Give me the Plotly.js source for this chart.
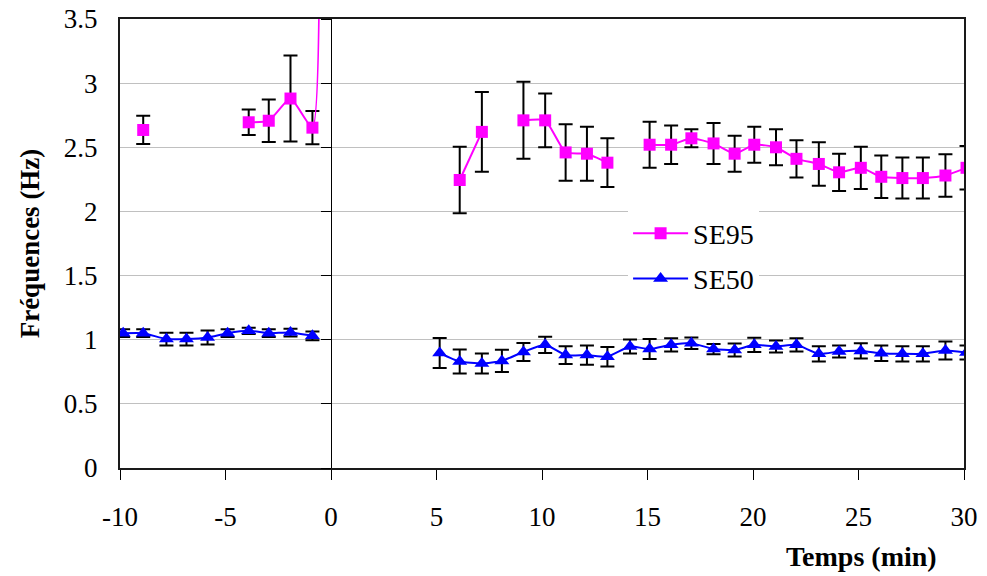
<!DOCTYPE html>
<html>
<head>
<meta charset="utf-8">
<script src="https://cdn.plot.ly/plotly-3.0.1.min.js"></script>
<style>html,body{margin:0;padding:0;background:#fff;}#chart{width:987px;height:576px;}</style>
</head>
<body>
<div id="chart"></div>
<script>
// Time (min)
var temps = [-9.85, -8.9, -7.8, -6.85, -5.85, -4.9, -3.9, -2.95, -1.92, -0.88, -0.6,
             5.15, 6.1, 7.15, 8.1, 9.12, 10.15, 11.12, 12.13, 13.1, 14.17,
             15.1, 16.12, 17.08, 18.13, 19.13, 20.06, 21.09, 22.06, 23.12, 24.08,
             25.11, 26.08, 27.08, 28.05, 29.12, 30.12];
var se95 = [null, 2.635, null, null, null, null, 2.695, 2.707, 2.88, 2.653, 6,
            null, 2.245, 2.62, null, 2.71, 2.71, 2.46, 2.45, 2.38, null,
            2.52, 2.52, 2.57, 2.53, 2.45, 2.52, 2.50, 2.41, 2.37, 2.305,
            2.34, 2.27, 2.26, 2.26, 2.28, 2.34];
var se95Err = [null, 0.11, null, null, null, null, 0.10, 0.166, 0.335, 0.13, 0,
               null, 0.26, 0.31, null, 0.30, 0.21, 0.22, 0.21, 0.19, null,
               0.18, 0.15, 0.07, 0.16, 0.14, 0.14, 0.14, 0.145, 0.17, 0.145,
               0.165, 0.165, 0.16, 0.16, 0.165, 0.17];
var se50 = [1.051, 1.051, 1.005, 1.005, 1.017, 1.051, 1.069, 1.051, 1.056, 1.03, null,
            0.896, 0.83, 0.815, 0.835, 0.905, 0.96, 0.88, 0.88, 0.868, 0.947,
            0.927, 0.96, 0.973, 0.927, 0.92, 0.96, 0.947, 0.96, 0.89, 0.908,
            0.913, 0.895, 0.89, 0.89, 0.916, 0.90];
var se50Err = [0.03, 0.03, 0.05, 0.05, 0.055, 0.03, 0.025, 0.03, 0.03, 0.035, null,
               0.117, 0.094, 0.078, 0.086, 0.07, 0.063, 0.07, 0.075, 0.076, 0.055,
               0.078, 0.052, 0.045, 0.04, 0.05, 0.055, 0.047, 0.052, 0.06, 0.047,
               0.06, 0.06, 0.06, 0.06, 0.07, 0.055];
var xTicks = [-10, -5, 0, 5, 10, 15, 20, 25, 30];
var yTicks = [0, 0.5, 1, 1.5, 2, 2.5, 3, 3.5];
var yTickText = ['0', '0.5', '1', '1.5', '2', '2.5', '3', '3.5'];

var serif = 'Liberation Serif';
var errStyle = {type: 'data', visible: true, color: '#000', thickness: 2, width: 7};

var traces = [
  {
    x: temps, y: se95, name: 'SE95', type: 'scatter', mode: 'lines+markers',
    connectgaps: false, legendgroup: 'a',
    line: {color: '#FF00FF', width: 2, shape: 'spline', smoothing: 0.5},
    marker: {symbol: 'square', size: 12, color: '#FF00FF'},
    error_y: Object.assign({array: se95Err}, errStyle)
  },
  {
    x: temps, y: se50, name: 'SE50', type: 'scatter', mode: 'lines+markers',
    connectgaps: false, legendgroup: 'b',
    line: {color: '#0000FF', width: 2, shape: 'spline', smoothing: 0.5},
    marker: {symbol: 'triangle-up', size: 13, color: '#0000FF'},
    error_y: Object.assign({array: se50Err}, errStyle)
  }
];

var layout = {
  width: 987, height: 576,
  margin: {l: 120, r: 23, t: 19, b: 108},
  paper_bgcolor: '#fff', plot_bgcolor: '#fff',
  font: {family: serif, size: 27, color: '#000'},
  showlegend: true,
  legend: {
    x: 0.602, y: 0.578, xanchor: 'left', yanchor: 'top',
    bgcolor: '#fff', borderwidth: 0,
    font: {family: serif, size: 28, color: '#000'},
    itemwidth: 55, traceorder: 'grouped', tracegroupgap: 6
  },
  xaxis: {
    range: [-10, 30], tickvals: xTicks, ticktext: xTicks.map(String),
    ticks: 'outside', ticklen: 10, tickwidth: 1, tickcolor: '#000',
    showline: true, linecolor: '#1a1a1a', linewidth: 2, mirror: true,
    showgrid: false, zeroline: false,
    ticklabelstandoff: 14,
    tickfont: {family: serif, size: 27, color: '#000'}
  },
  yaxis: {
    range: [0, 3.5], tickvals: yTicks, ticktext: yTickText,
    ticks: '', showline: true, linecolor: '#1a1a1a', linewidth: 2, mirror: true,
    showgrid: true, gridcolor: '#c0c0c0', gridwidth: 1, zeroline: false,
    ticklabelstandoff: 15,
    tickfont: {family: serif, size: 27, color: '#000'},
    title: {text: '<b>Fréquences (Hz)</b>', font: {family: serif, size: 27, color: '#000'}, standoff: 16}
  },
  yaxis2: {
    overlaying: 'y', anchor: 'free', position: 0.25, side: 'left',
    range: [0, 3.5], tickvals: yTicks, showticklabels: false,
    ticks: 'outside', ticklen: 10, tickwidth: 1, tickcolor: '#000',
    showline: true, linecolor: '#000', linewidth: 1,
    showgrid: false, zeroline: false
  },
  annotations: [{
    text: '<b>Temps (min)</b>', xref: 'paper', yref: 'paper',
    x: 0.879, y: -0.196, xanchor: 'center', yanchor: 'middle', showarrow: false,
    font: {family: serif, size: 28, color: '#000'}
  }]
};

// invisible trace to activate the secondary (x = 0) axis with its ticks
traces.push({x: [0], y: [0], yaxis: 'y2', mode: 'markers', marker: {opacity: 0}, showlegend: false, hoverinfo: 'skip'});

Plotly.newPlot('chart', traces, layout, {displayModeBar: false, staticPlot: true});
</script>
</body>
</html>
